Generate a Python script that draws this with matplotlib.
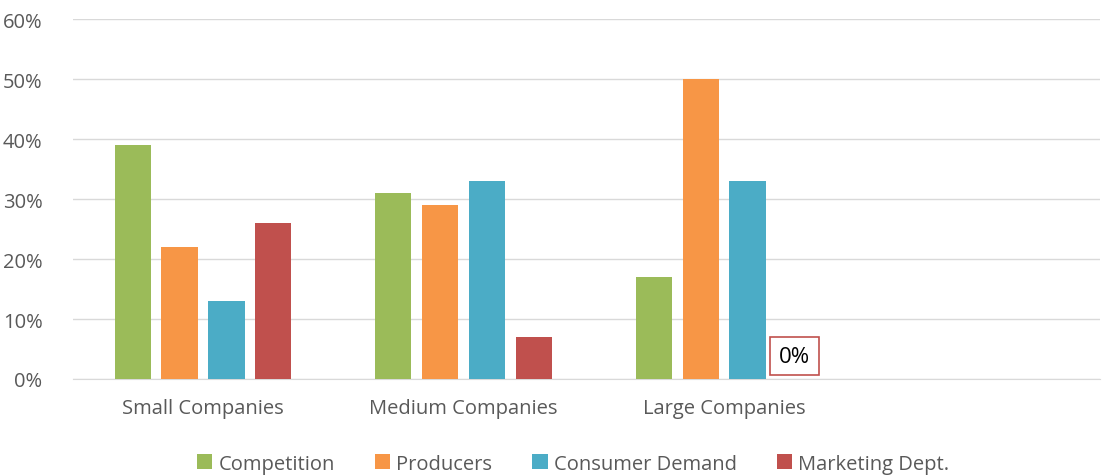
import numpy as np
import matplotlib.pyplot as plt
from matplotlib.ticker import PercentFormatter

categories = ['Small Companies', 'Medium Companies', 'Large Companies', '']
series = ['Competition', 'Producers', 'Consumer Demand', 'Marketing Dept.']
competition = [39, 31, 17, np.nan]
producers = [22, 29, 50, np.nan]
consumer_demand = [13, 33, 33, np.nan]
marketing = [26, 7, 0, np.nan]
colors = ['#9bbb59', '#f79646', '#4bacc6', '#c0504d']

plt.rcParams['font.family'] = ['Open Sans', 'DejaVu Sans']

fig = plt.figure(figsize=(11.03, 4.77), dpi=100)
ax = fig.add_axes([73 / 1103, 1 - 380 / 477, (1100 - 73) / 1103, 360 / 477])

x = np.arange(len(categories))
step = 0.180
width = 0.139
data = [competition, producers, consumer_demand, marketing]
for i, (name, vals, c) in enumerate(zip(series, data, colors)):
    ax.bar(x + (i - 1.5) * step, vals, width, color=c, label=name, zorder=3)

# data label for the zero bar
ax.annotate('0%', (x[2] + 1.5 * step, 0), xytext=(0, 16.5), textcoords='offset points',
            ha='center', va='center', fontsize=16, color='black',
            bbox=dict(boxstyle='square,pad=0.4', fc='white', ec='#c0504d', lw=1.2))

ax.set_xlim(-0.499, 3.443)
ax.set_ylim(0, 60)
ax.set_yticks(range(0, 61, 10))
ax.yaxis.set_major_formatter(PercentFormatter(decimals=0))
ax.set_xticks(x)
ax.set_xticklabels(categories)
ax.tick_params(axis='both', length=0, labelsize=14.5, colors='#595959')
ax.tick_params(axis='x', pad=14)
ax.tick_params(axis='y', pad=22)
ax.grid(axis='y', color='#d9d9d9', lw=1, zorder=0)
for s in ['top', 'right', 'left']:
    ax.spines[s].set_visible(False)
ax.spines['bottom'].set_color('#d9d9d9')

ax.legend(loc='center', bbox_to_anchor=(0.487, -0.235), ncol=4, frameon=False,
          fontsize=14.5, handlelength=0.75, handleheight=0.75, handletextpad=0.3,
          columnspacing=2.0, labelcolor='#595959')

fig.savefig('out.png', dpi=100)
